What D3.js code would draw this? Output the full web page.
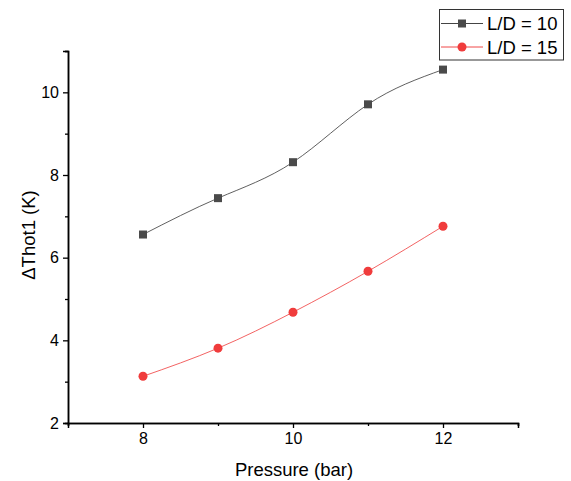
<!DOCTYPE html>
<html>
<head>
<meta charset="utf-8">
<script src="https://cdn.jsdelivr.net/npm/d3@7/dist/d3.min.js"></script>
<style>
  html, body { margin: 0; padding: 0; background: #fff; }
  svg { display: block; font-family: Arial, "Liberation Sans", sans-serif; }
</style>
</head>
<body>
<svg id="chart" width="571" height="481"></svg>
<script>
// Pressure values (bar)
const pressure = [8, 9, 10, 11, 12];
// ΔThot1 (K) for each L/D ratio
const ld10 = [6.56, 7.44, 8.31, 9.71, 10.55];
const ld15 = [3.13, 3.81, 4.68, 5.67, 6.76];
const seriesNames = ["L/D = 10", "L/D = 15"];
const xTicks = [8, 10, 12];
const yTicks = [2, 4, 6, 8, 10];

const svg = d3.select("#chart");
const plotLeft = 68, plotRight = 518, plotTop = 51, plotBottom = 423;

const x = d3.scaleLinear().domain([7, 13]).range([plotLeft, plotRight]);
const y = d3.scaleLinear().domain([2, 11]).range([plotBottom, plotTop]);

// Axes with major and minor ticks
const xAxis = d3.axisBottom(x).tickValues(xTicks).tickFormat(d3.format("d")).tickSize(5).tickPadding(5);
const xMinor = d3.axisBottom(x).tickValues([7, 9, 11, 13]).tickFormat("").tickSize(3);
const yAxis = d3.axisLeft(y).tickValues(yTicks).tickFormat(d3.format("d")).tickSize(5).tickPadding(4);
const yMinor = d3.axisLeft(y).tickValues([3, 5, 7, 9, 11]).tickFormat("").tickSize(3);

function styleAxis(g) {
  g.select(".domain").attr("stroke", "#000").attr("stroke-width", 1.5);
  g.selectAll(".tick line").attr("stroke", "#000").attr("stroke-width", 1.3);
  g.selectAll(".tick text").attr("fill", "#000").style("font-size", "16px")
    .style("font-family", "Arial, 'Liberation Sans', sans-serif");
}

svg.append("g").attr("transform", `translate(0,${plotBottom})`).call(xMinor).call(styleAxis);
svg.append("g").attr("transform", `translate(0,${plotBottom})`).call(xAxis).call(styleAxis);
svg.append("g").attr("transform", `translate(${plotLeft},0)`).call(yMinor).call(styleAxis);
svg.append("g").attr("transform", `translate(${plotLeft},0)`).call(yAxis).call(styleAxis);

// Axis titles
svg.append("text")
  .attr("x", (plotLeft + plotRight) / 2 + 1).attr("y", 476)
  .attr("text-anchor", "middle").style("font-size", "18.5px").text("Pressure (bar)");
svg.append("text")
  .attr("transform", "translate(35,235) rotate(-90)")
  .attr("text-anchor", "middle").style("font-size", "18.5px").text("ΔThot1 (K)");

const series = [
  { name: seriesNames[0], values: ld10, line: "#444", marker: "#4a4a4a", shape: "square" },
  { name: seriesNames[1], values: ld15, line: "#f04848", marker: "#f03c3c", shape: "circle" }
];

const line = d3.line()
  .x((d, i) => x(pressure[i]))
  .y(d => y(d))
  .curve(d3.curveNatural);

function drawMarker(g, s, cx, cy) {
  if (s.shape === "square") {
    g.append("rect").attr("x", cx - 4).attr("y", cy - 4).attr("width", 8).attr("height", 8)
      .attr("fill", s.marker);
  } else {
    g.append("circle").attr("cx", cx).attr("cy", cy).attr("r", 4.5).attr("fill", s.marker);
  }
}

series.forEach(s => {
  svg.append("path").datum(s.values)
    .attr("d", line).attr("fill", "none")
    .attr("stroke", s.line).attr("stroke-width", 1).attr("stroke-opacity", 0.85);
  const g = svg.append("g");
  s.values.forEach((v, i) => drawMarker(g, s, x(pressure[i]), y(v)));
});

// Legend
const lg = svg.append("g");
lg.append("rect").attr("x", 439.5).attr("y", 9.5).attr("width", 124).attr("height", 50.5)
  .attr("fill", "#fff").attr("stroke", "#333").attr("stroke-width", 1);
series.forEach((s, i) => {
  const cy = 23.5 + i * 23.5;
  lg.append("line").attr("x1", 441).attr("x2", 483).attr("y1", cy).attr("y2", cy)
    .attr("stroke", s.line).attr("stroke-width", 1);
  drawMarker(lg, s, 462, cy);
  lg.append("text").attr("x", 487).attr("y", cy + 6.5).style("font-size", "18.5px").text(s.name);
});
</script>
</body>
</html>
